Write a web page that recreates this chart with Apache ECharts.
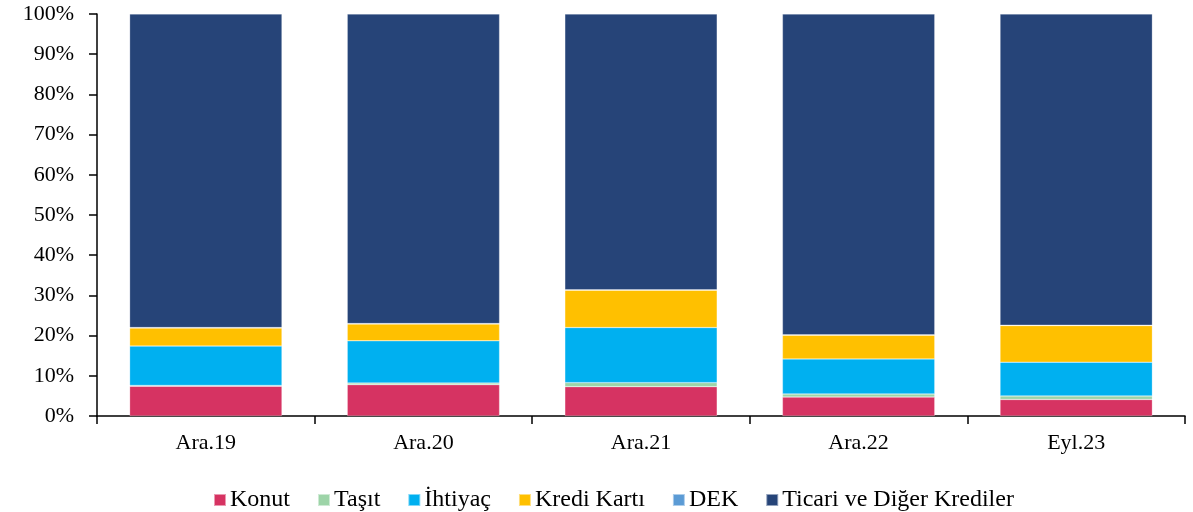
<!DOCTYPE html>
<html>
<head>
<meta charset="utf-8">
<script src="https://cdn.jsdelivr.net/npm/echarts@6/dist/echarts.min.js"></script>
<style>
  html, body { margin: 0; padding: 0; background: #fff; }
  #chart { width: 1193px; height: 512px; }
</style>
</head>
<body>
<div id="chart"></div>
<script>
const categories = ['Ara.19', 'Ara.20', 'Ara.21', 'Ara.22', 'Eyl.23'];
const konut = [7.4, 7.8, 7.3, 4.7, 4.1];
const tasit = [0.2, 0.4, 1.0, 0.8, 0.9];
const ihtiyac = [9.8, 10.5, 13.7, 8.7, 8.4];
const krediKarti = [4.5, 4.2, 9.3, 5.9, 9.1];
const dek = [0.1, 0.1, 0.1, 0.1, 0.1];
const ticari = [78.0, 77.0, 68.6, 79.8, 77.4];

const chart = echarts.init(document.getElementById('chart'));

const font = 'Liberation Serif, Times New Roman, serif';

function bar(name, data, color) {
  return {
    name,
    type: 'bar',
    stack: 'total',
    barCategoryGap: '30%',
    data,
    itemStyle: { color, borderColor: 'rgba(255,255,255,0.5)', borderWidth: 0.5 },
  };
}

const option = {
  animation: false,
  textStyle: { fontFamily: font },
  grid: { left: 97, right: 8, top: 14, bottom: 96 },
  legend: {
    top: 483,
    left: 208,
    itemWidth: 12,
    itemHeight: 12,
    itemGap: 27,
    icon: 'rect',
    textStyle: { fontFamily: font, fontSize: 24, color: '#000', padding: [0, 0, 0, -1] },
  },
  xAxis: {
    type: 'category',
    data: categories,
    axisLine: { lineStyle: { color: '#000', width: 1.5 } },
    axisTick: { show: true, length: 8, lineStyle: { color: '#000', width: 1.5 } },
    axisLabel: { fontFamily: font, fontSize: 22, color: '#000', margin: 16 },
  },
  yAxis: {
    type: 'value',
    min: 0,
    max: 100,
    interval: 10,
    splitLine: { show: false },
    axisLine: { show: true, lineStyle: { color: '#000', width: 1.5 } },
    axisTick: { show: true, length: 8, lineStyle: { color: '#000', width: 1.5 } },
    axisLabel: { fontFamily: font, fontSize: 22, color: '#000', margin: 23, formatter: '{value}%' },
  },
  series: [
    bar('Konut', konut, '#d63362'),
    bar('Taşıt', tasit, '#9dd4a8'),
    bar('İhtiyaç', ihtiyac, '#00b0f0'),
    bar('Kredi Kartı', krediKarti, '#ffc000'),
    bar('DEK', dek, '#5b9bd5'),
    bar('Ticari ve Diğer Krediler', ticari, '#264478'),
  ],
};

chart.setOption(option);
</script>
</body>
</html>
